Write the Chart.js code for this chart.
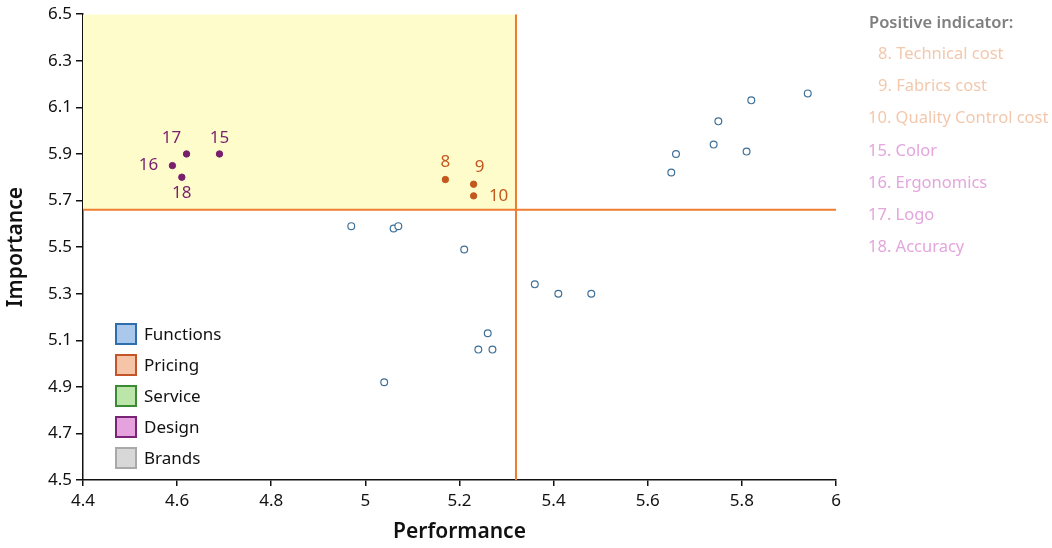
<!DOCTYPE html>
<html>
<head>
<meta charset="utf-8">
<title>Importance-Performance</title>
<script src="https://cdn.jsdelivr.net/npm/chart.js@4.4.1/dist/chart.umd.min.js"></script>
<style>
  html, body { margin: 0; padding: 0; background: #fff; }
  #wrap { position: relative; width: 1052px; height: 548px; font-family: "Noto Sans", sans-serif; }
  #chart { position: absolute; left: 0; top: 0; }
  .legend { position: absolute; left: 115px; top: 323px; }
  .legend .row { position: absolute; left: 0; width: 140px; height: 22px; }
  .legend .box { position: absolute; left: 0; top: 0; width: 18px; height: 18px; border: 2px solid; }
  .legend .txt { position: absolute; left: 29px; top: 0; line-height: 22px; font-size: 17px; color: #111; white-space: nowrap; }
  .side { position: absolute; left: 0; top: 0; }
  .side div { position: absolute; white-space: nowrap; font-size: 16.5px; line-height: 24px; }
  .side .head { left: 869px; top: 10px; color: #7f7f7f; font-weight: 600; }
</style>
</head>
<body>
<div id="wrap">
  <canvas id="chart" width="1052" height="548"></canvas>
  <div class="legend" id="legend"></div>
  <div class="side" id="side"><div class="head">Positive indicator:</div></div>
</div>
<script>
// axis ticks
const xTicks = [4.4, 4.6, 4.8, 5, 5.2, 5.4, 5.6, 5.8, 6];
const yTicks = [4.5, 4.7, 4.9, 5.1, 5.3, 5.5, 5.7, 5.9, 6.1, 6.3, 6.5];

// mean lines (quadrant split)
const meanPerformance = 5.32;
const meanImportance = 5.66;

// indicators outside the "concentrate here" quadrant
const otherX = [4.97, 5.06, 5.07, 5.21, 5.36, 5.41, 5.48, 5.26, 5.24, 5.27, 5.04, 5.65, 5.66, 5.74, 5.75, 5.81, 5.82, 5.94];
const otherY = [5.59, 5.58, 5.59, 5.49, 5.34, 5.30, 5.30, 5.13, 5.06, 5.06, 4.92, 5.82, 5.90, 5.94, 6.04, 5.91, 6.13, 6.16];

// pricing indicators 8, 9, 10
const pricingIds = ['8', '9', '10'];
const pricingX = [5.17, 5.23, 5.23];
const pricingY = [5.79, 5.77, 5.72];

// design indicators 15..18
const designIds = ['15', '16', '17', '18'];
const designX = [4.69, 4.59, 4.62, 4.61];
const designY = [5.90, 5.85, 5.90, 5.80];

const categories = ['Functions', 'Pricing', 'Service', 'Design', 'Brands'];
const sideItems = ['8. Technical cost', '9. Fabrics cost', '10. Quality Control cost', '15. Color', '16. Ergonomics', '17. Logo', '18. Accuracy'];

// styling
const catFill = ['#A9C8EB', '#F6C4A7', '#BCE6A9', '#E6A2DC', '#D8D8D8'];
const catLine = ['#2F6EAD', '#C4552A', '#3B8A34', '#7A2478', '#A9A9A9'];
const labelOffsets = { '15': [0, -16], '16': [-24, 0], '17': [-15, -16], '18': [0, 16], '8': [0, -17], '9': [6, -17], '10': [25, 0] };

function pts(xs, ys) { return xs.map((x, i) => ({ x: x, y: ys[i] })); }

// legend boxes
const legend = document.getElementById('legend');
categories.forEach((c, i) => {
  const row = document.createElement('div');
  row.className = 'row';
  row.style.top = (i * 31) + 'px';
  row.innerHTML = '<div class="box" style="background:' + catFill[i] + ';border-color:' + catLine[i] + '"></div><div class="txt">' + c + '</div>';
  legend.appendChild(row);
});

// right side list
const side = document.getElementById('side');
sideItems.forEach((t, i) => {
  const d = document.createElement('div');
  const num = parseInt(t, 10);
  d.textContent = t;
  d.style.left = (num < 10 ? 878 : 868) + 'px';
  d.style.top = (41 + i * 32.2) + 'px';
  d.style.color = num < 15 ? '#F3C8AD' : '#E3A6DD';
  side.appendChild(d);
});

// draws the point number next to each labelled point
const pointLabels = {
  id: 'pointLabels',
  afterDatasetsDraw(chart) {
    const ctx = chart.ctx;
    ctx.save();
    ctx.font = '17px "Noto Sans", sans-serif';
    ctx.textAlign = 'center';
    ctx.textBaseline = 'middle';
    chart.data.datasets.forEach((ds, di) => {
      if (!ds.ids) return;
      const meta = chart.getDatasetMeta(di);
      ctx.fillStyle = ds.labelColor;
      meta.data.forEach((el, i) => {
        const off = labelOffsets[ds.ids[i]] || [0, -16];
        ctx.fillText(ds.ids[i], el.x + off[0], el.y + off[1]);
      });
    });
    ctx.restore();
  }
};

const tickFont = { family: '"Noto Sans", sans-serif', size: 17 };
const titleFont = { family: '"Noto Sans", sans-serif', size: 21, weight: '600' };

new Chart(document.getElementById('chart'), {
  type: 'scatter',
  data: {
    datasets: [
      {
        label: 'Design',
        data: pts(designX, designY),
        ids: designIds,
        labelColor: '#7A1E6E',
        backgroundColor: '#7A1E6E',
        borderColor: '#7A1E6E',
        pointRadius: 3.2,
        order: 1
      },
      {
        label: 'Pricing',
        data: pts(pricingX, pricingY),
        ids: pricingIds,
        labelColor: '#C3581F',
        backgroundColor: '#C3581F',
        borderColor: '#C3581F',
        pointRadius: 3.2,
        order: 1
      },
      {
        label: 'Other',
        data: pts(otherX, otherY),
        backgroundColor: '#ffffff',
        borderColor: '#3F7098',
        borderWidth: 1.2,
        pointRadius: 3.4,
        order: 2
      },
      {
        type: 'line',
        label: 'mean performance',
        data: [{ x: meanPerformance, y: yTicks[0] }, { x: meanPerformance, y: yTicks[yTicks.length - 1] }],
        borderColor: '#ED7D31',
        borderWidth: 2,
        pointRadius: 0,
        fill: false,
        order: 5
      },
      {
        type: 'line',
        label: 'mean importance',
        data: [{ x: xTicks[0], y: meanImportance }, { x: xTicks[xTicks.length - 1], y: meanImportance }],
        borderColor: '#ED7D31',
        borderWidth: 2,
        pointRadius: 0,
        fill: false,
        order: 5
      },
      {
        type: 'line',
        label: 'concentrate here',
        data: [{ x: xTicks[0], y: yTicks[yTicks.length - 1] }, { x: meanPerformance, y: yTicks[yTicks.length - 1] }],
        borderWidth: 0,
        borderColor: 'rgba(0,0,0,0)',
        backgroundColor: '#FFFCCB',
        pointRadius: 0,
        fill: { value: meanImportance },
        order: 10
      }
    ]
  },
  options: {
    responsive: false,
    animation: false,
    layout: { padding: { top: 13, right: 216, left: 0, bottom: 0 } },
    plugins: {
      legend: { display: false },
      tooltip: { enabled: false }
    },
    scales: {
      x: {
        type: 'linear',
        min: xTicks[0],
        max: xTicks[xTicks.length - 1],
        afterBuildTicks: s => { s.ticks = xTicks.map(v => ({ value: v })); },
        afterFit: s => { s.height = 68; },
        ticks: { color: '#111', font: tickFont, padding: 5, maxRotation: 0, callback: v => String(v) },
        grid: { drawOnChartArea: false, drawTicks: true, tickLength: 6, color: '#111', lineWidth: 1.5 },
        border: { color: '#111', width: 1.5 },
        title: { display: true, text: 'Performance', color: '#111', font: titleFont, padding: { top: 3, bottom: 3 } }
      },
      y: {
        type: 'linear',
        min: yTicks[0],
        max: yTicks[yTicks.length - 1],
        afterBuildTicks: s => { s.ticks = yTicks.map(v => ({ value: v })); },
        afterFit: s => { s.width = 83; },
        ticks: { color: '#111', font: tickFont, padding: 4, callback: v => String(v) },
        grid: { drawOnChartArea: false, drawTicks: true, tickLength: 7, color: '#111', lineWidth: 1.5 },
        border: { color: '#111', width: 1.5 },
        title: { display: true, text: 'Importance', color: '#111', font: titleFont, padding: { top: 3, bottom: 3 } }
      }
    }
  },
  plugins: [pointLabels]
});
</script>
</body>
</html>
